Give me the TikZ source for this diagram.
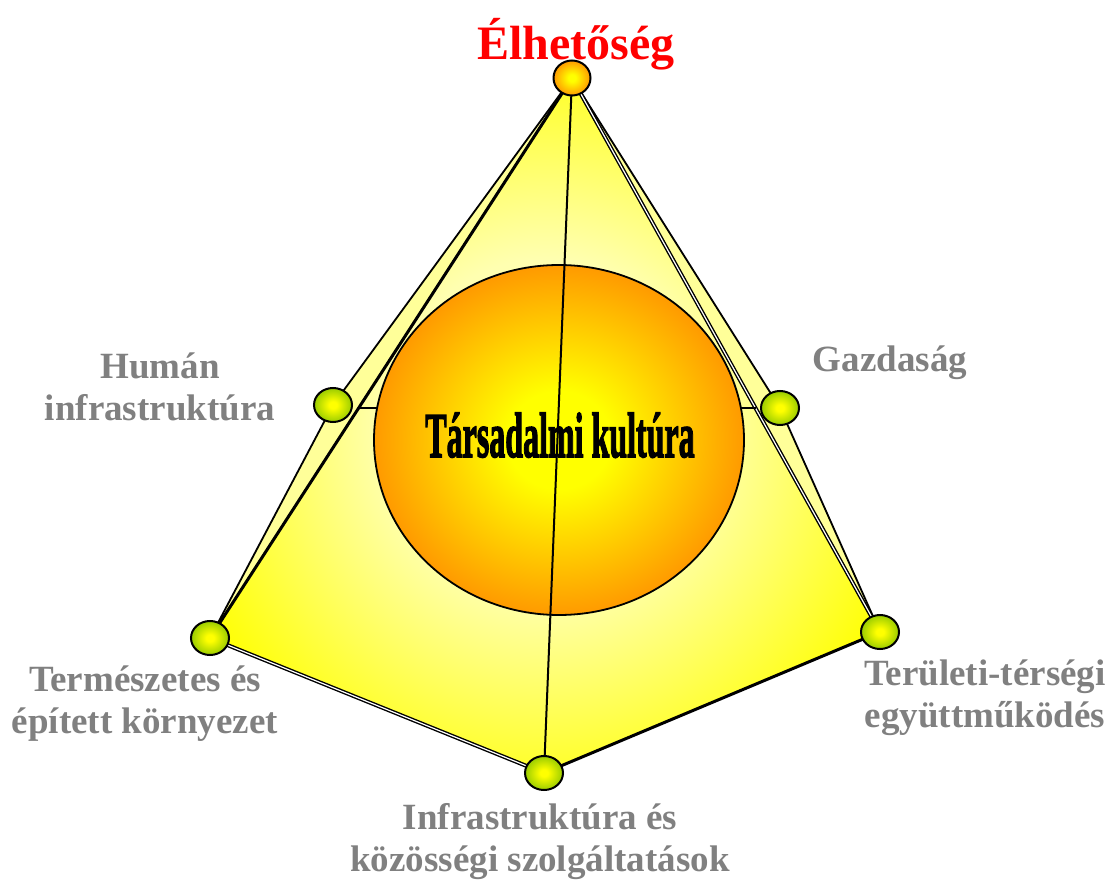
\documentclass[tikz,border=0pt]{standalone}
\usepackage{fontspec}
\setmainfont{Liberation Serif}
\newfontfamily\heavyfont{Liberation Serif}[UprightFont={* Bold},FakeBold=2.4]
\usetikzlibrary{shapes.geometric}
\definecolor{fpale}{HTML}{FFFFB0}
\definecolor{fyel}{HTML}{FFFF00}
\definecolor{bandcol}{HTML}{FFFF99}
\definecolor{sorange}{HTML}{FF9A00}
\definecolor{bgreen}{HTML}{99CC00}
\definecolor{labgray}{HTML}{808080}
\pgfdeclareradialshading{facesh}{\pgfpoint{0bp}{0bp}}{color(0bp)=(fpale); color(12bp)=(fpale); color(29bp)=(fyel); color(50bp)=(fyel)}
\pgfdeclareradialshading{sphsh}{\pgfpoint{0bp}{0bp}}{color(0bp)=(fyel); color(7bp)=(fyel); color(25bp)=(sorange); color(50bp)=(sorange)}
\pgfdeclareradialshading{greensh}{\pgfpoint{0bp}{0bp}}{color(0bp)=(fyel); color(5bp)=(fyel); color(25bp)=(bgreen); color(50bp)=(bgreen)}
\pgfdeclareradialshading{orangesh}{\pgfpoint{0bp}{0bp}}{color(0bp)=(fyel); color(5bp)=(fyel); color(25bp)=(sorange); color(50bp)=(sorange)}
\tikzset{
  band/.style={fill=bandcol,draw=black,line width=1.8pt,line join=round},
  thickedge/.style={draw=black,line width=3pt,line cap=round},
  dbledge/.style={draw=black,line width=1.4pt,double=white,double distance=1.2pt},
  thinedge/.style={draw=black,line width=1.8pt},
  ball/.style={ellipse,draw=black,line width=2pt,inner sep=0pt,minimum width=38pt,minimum height=34pt,shading=greensh},
  topball/.style={ball,shading=orangesh,minimum width=37pt,minimum height=35pt},
  lab/.style={text=labgray,font=\fontsize{37}{42}\selectfont\bfseries,align=center,inner sep=0pt},
}
\begin{document}
\begin{tikzpicture}[x=1pt,y=-1pt]
\useasboundingbox (0,0) rectangle (1108,882);
% vertices
\coordinate (vA) at (572,78);
\coordinate (vH) at (333,405);
\coordinate (vG) at (780,408);
\coordinate (vL) at (210,638);
\coordinate (vF) at (544,773);
\coordinate (vR) at (880,632);
\coordinate (hl) at (358.7,408);
\coordinate (hr) at (755.5,408);
% back bands
\path[band] (vA) -- (vH) -- (vL) -- cycle;
\path[band] (vA) -- (vG) -- (vR) -- cycle;
% front faces
\path[shading=facesh] (vA) -- (vL) -- (vF) -- (vR) -- cycle;
\draw[thickedge] (vA) -- (vL);
\draw[dbledge] (vL) -- (vF);
\draw[thickedge] (vF) -- (vR);
\draw[dbledge] (vA) -- (vR);
% hidden back edge
\draw[thinedge] (hl) -- (hr);
% sphere
\node[ellipse,draw=black,line width=1.8pt,minimum width=370pt,minimum height=350pt,inner sep=0pt,shading=sphsh] (sph) at (559,440) {};
% central edge
\draw[thinedge,line width=2pt] (vA) -- (vF);
% balls
\node[topball] (bA) at (vA) {};
\node[ball] (bH) at (vH) {};
\node[ball] (bG) at (vG) {};
\node[ball] (bL) at (vL) {};
\node[ball] (bF) at (vF) {};
\node[ball] (bR) at (vR) {};
% texts
\node[anchor=base,text=red,font=\fontsize{48}{52}\selectfont\bfseries,inner sep=0pt] (title) at (576,60) {Élhetőség};
\node[anchor=base,inner sep=0pt] (core) at (560,457) {\scalebox{0.5}[1]{\heavyfont\fontsize{64}{70}\selectfont Társadalmi kultúra}};
\node[lab,anchor=base] (tH) at (160,420) {Humán\\infrastruktúra};
\node[lab,anchor=base] (tG) at (890,372) {Gazdaság};
\node[lab,anchor=base] (tL) at (145,733) {Természetes és\\épített környezet};
\node[lab,anchor=base] (tR) at (985,727) {Területi-térségi\\együttműködés};
\node[lab,anchor=base] (tF) at (540,871) {Infrastruktúra és\\közösségi szolgáltatások};
\end{tikzpicture}
\end{document}
